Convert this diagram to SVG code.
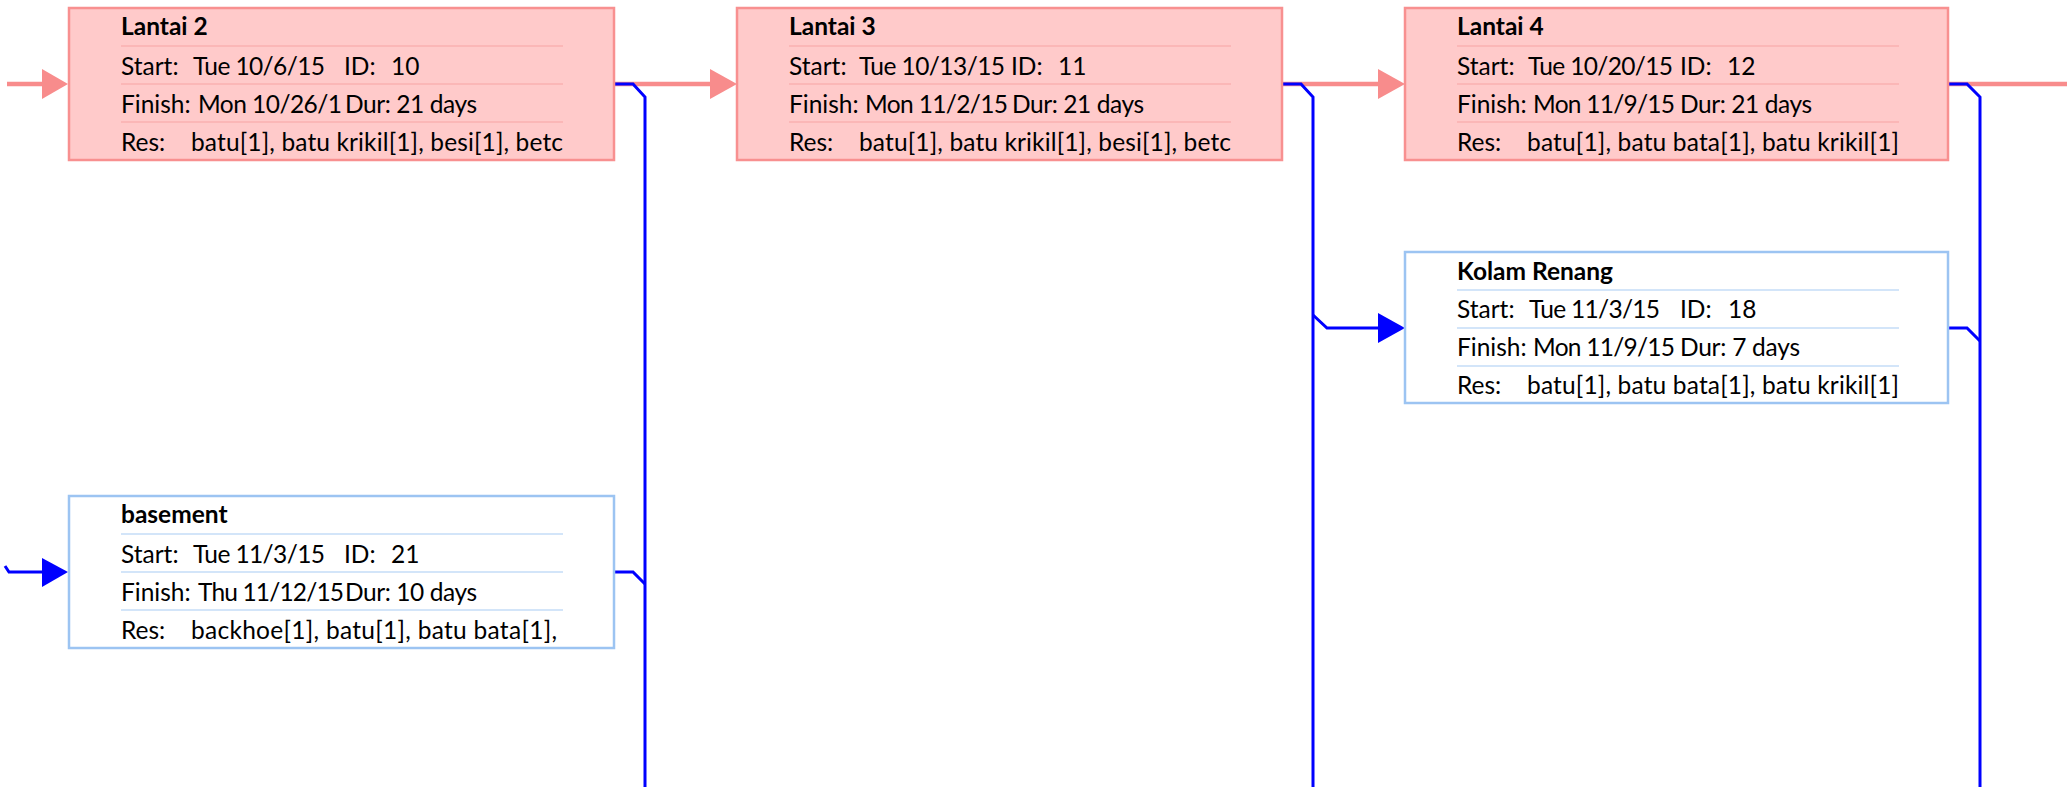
<svg xmlns="http://www.w3.org/2000/svg" width="2067" height="787" viewBox="0 0 2067 787">
<style>
text{font-family:Lato,"Open Sans","Liberation Sans",sans-serif;font-size:24.5px;fill:#000}
.t{font-weight:bold}
.rb{fill:#FFCACA;stroke:#F89090;stroke-width:2.5}
.bb{fill:#FFFFFF;stroke:#9CC4F2;stroke-width:2.5}
.rs{stroke:#F8A4A4;stroke-width:1.2}
.bs{stroke:#A8CCF4;stroke-width:1.2}
.rl{fill:none;stroke:#F88C8C;stroke-width:4.5}
.bl{fill:none;stroke:#0000FF;stroke-width:3}
.rh{fill:#F88C8C}
.bh{fill:#0000FF}
</style>
<g id="connectors">
<path class="rl" d="M7 84H44"/>
<polygon class="rh" points="42,69 68,84 42,99"/>
<path class="rl" d="M614 84H712"/>
<polygon class="rh" points="710,69 737,84 710,99"/>
<path class="rl" d="M1282 84H1380"/>
<polygon class="rh" points="1378,69 1405,84 1378,99"/>
<path class="rl" d="M1948 84H2067"/>
<path class="bl" d="M614 84H633L645 97V787"/>
<path class="bl" d="M614 572H633L645 584"/>
<path class="bl" d="M1282 84H1301L1313 97V787"/>
<path class="bl" d="M1313 315L1327 328H1380"/>
<polygon class="bh" points="1378,313 1405,328 1378,343"/>
<path class="bl" d="M1948 84H1967L1980 97V787"/>
<path class="bl" d="M1948 328H1967L1980 341"/>
<path class="bl" d="M5 566L9 572H44"/>
<polygon class="bh" points="42,558 68,572 42,587"/>
</g>
<g id="lantai2">
<rect class="rb" x="69" y="8" width="545" height="152"/>
<path class="rs" d="M121 46H563M121 84H563M121 122H563"/>
<text class="t" x="121" y="35">Lantai 2</text>
<text x="121" y="75">Start:</text><text x="193" y="75" textLength="132">Tue 10/6/15</text>
<text x="344" y="75">ID:</text><text x="391" y="75">10</text>
<text x="121" y="113">Finish:</text><text x="198" y="113" textLength="144">Mon 10/26/1</text>
<text x="345" y="113" textLength="132">Dur: 21 days</text>
<text x="121" y="151">Res:</text><text x="191" y="151" textLength="372">batu[1], batu krikil[1], besi[1], betc</text>
</g>
<g id="lantai3">
<rect class="rb" x="737" y="8" width="545" height="152"/>
<path class="rs" d="M789 46H1231M789 84H1231M789 122H1231"/>
<text class="t" x="789" y="35">Lantai 3</text>
<text x="789" y="75">Start:</text><text x="859" y="75" textLength="146">Tue 10/13/15</text>
<text x="1011" y="75">ID:</text><text x="1058" y="75">11</text>
<text x="789" y="113">Finish:</text><text x="865" y="113" textLength="143">Mon 11/2/15</text>
<text x="1012" y="113" textLength="132">Dur: 21 days</text>
<text x="789" y="151">Res:</text><text x="859" y="151" textLength="372">batu[1], batu krikil[1], besi[1], betc</text>
</g>
<g id="lantai4">
<rect class="rb" x="1405" y="8" width="543" height="152"/>
<path class="rs" d="M1457 46H1899M1457 84H1899M1457 122H1899"/>
<text class="t" x="1457" y="35">Lantai 4</text>
<text x="1457" y="75">Start:</text><text x="1528" y="75" textLength="145">Tue 10/20/15</text>
<text x="1680" y="75">ID:</text><text x="1727" y="75">12</text>
<text x="1457" y="113">Finish:</text><text x="1533" y="113" textLength="142">Mon 11/9/15</text>
<text x="1680" y="113" textLength="132">Dur: 21 days</text>
<text x="1457" y="151">Res:</text><text x="1527" y="151" textLength="372">batu[1], batu bata[1], batu krikil[1]</text>
</g>
<g id="kolam-renang">
<rect class="bb" x="1405" y="252" width="543" height="151"/>
<path class="bs" d="M1457 290H1899M1457 328H1899M1457 366H1899"/>
<text class="t" x="1457" y="280">Kolam Renang</text>
<text x="1457" y="318">Start:</text><text x="1529" y="318" textLength="131">Tue 11/3/15</text>
<text x="1680" y="318">ID:</text><text x="1728" y="318">18</text>
<text x="1457" y="356">Finish:</text><text x="1533" y="356" textLength="142">Mon 11/9/15</text>
<text x="1680" y="356" textLength="120">Dur: 7 days</text>
<text x="1457" y="394">Res:</text><text x="1527" y="394" textLength="372">batu[1], batu bata[1], batu krikil[1]</text>
</g>
<g id="basement">
<rect class="bb" x="69" y="496" width="545" height="152"/>
<path class="bs" d="M121 534H563M121 572H563M121 610H563"/>
<text class="t" x="121" y="523">basement</text>
<text x="121" y="563">Start:</text><text x="193" y="563" textLength="132">Tue 11/3/15</text>
<text x="344" y="563">ID:</text><text x="391" y="563">21</text>
<text x="121" y="601">Finish:</text><text x="198" y="601" textLength="146">Thu 11/12/15</text>
<text x="345" y="601" textLength="132">Dur: 10 days</text>
<text x="121" y="639">Res:</text><text x="191" y="639" textLength="366">backhoe[1], batu[1], batu bata[1],</text>
</g>
</svg>
